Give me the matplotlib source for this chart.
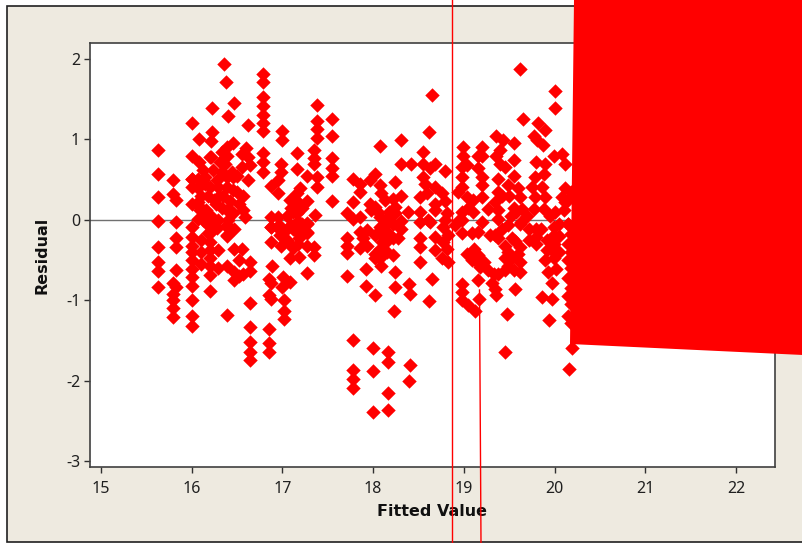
import matplotlib
matplotlib.use("Agg")
import matplotlib.pyplot as plt
from matplotlib.patches import Polygon, Rectangle
from matplotlib.lines import Line2D

W, H = 803, 543
plt.rcParams['axes.unicode_minus'] = False
plt.rcParams['font.family'] = ['Noto Sans', 'DejaVu Sans']

x_ticks = [15, 16, 17, 18, 19, 20, 21, 22]
y_ticks = [-3, -2, -1, 0, 1, 2]

fit_a = [15.63]*8 + [15.8,15.8,15.83,15.83,15.83,15.83,15.83,15.8,15.83,15.8,15.8,15.8,15.8]
res_a = [.87,.57,.28,-.02,-.34,-.52,-.64,-.83, .5,.32,.25,-.03,-.23,-.34,-.63,-.79,-.84,-.92,-1.0,-1.1,-1.21]

fit_b = [16.36,16.38,16.47,16.22,16.40,16.0,16.62,16.22,16.08,16.21,16.0,16.08,16.21,
         16.0,16.07,16.13,16.07,16.15,16.20,16.15,16.20,16.18,16.0,16.07,16.09,16.16,16.20,16.07,16.18,16.18,16.29,16.29,16.31,
         16.39,16.39,16.37,16.46,16.39,16.46,16.39,16.46,16.35,16.42,16.39,16.46,16.57,16.59,16.62,16.57,16.55,16.64,16.60,16.62,16.55,16.39,16.39,16.0,16.0]
res_b = [1.94,1.72,1.45,1.39,1.29,1.2,1.18,1.09,1.0,.98,.79,.72,.78,
         .51,.51,.49,.39,.45,.78,.53,.41,.30,.20,.22,.12,.12,.06,.01,-.07,-.17,0,.41,.72,
         .91,.80,.70,.95,.53,.53,.41,.37,.30,.24,.12,.08,.12,.03,.49,.30,.66,.68,.89,.78,.82,-.07,-.19,.41,.51]

fit_c = [16.0]*11 + [16.2]*8 + [16.29,16.29,16.39,16.39,16.39,16.39,16.47,16.56,16.64,16.64,16.57,16.47,16.47,16.64,16.64,16.64,16.64,16.64]
res_c = [-.09,-.21,-.32,-.40,-.50,-.61,-.71,-.82,-1.0,-1.2,-1.32,
         -.07,-.17,-.28,-.38,-.48,-.57,-.69,-.88,
         -.38,-.6,-.09,-.2,-.57,-1.19,-.36,-.36,-.52,-.64,-.67,-.65,-.75,-1.03,-1.33,-1.52,-1.65,-1.75]

fit_d = [16.79]*10 + [17.0,17.0,16.99,16.99,16.95,16.88,16.95,17.16,17.16,17.27,
         17.38,17.38,17.38,17.38,17.35,17.35,17.35,17.38,17.38,17.55,17.55,17.55,17.55,17.55,17.55,
         17.16,17.16,17.16,17.16,17.16,17.16,17.27,17.10,17.10,17.36,17.27,17.27,16.88,16.95,16.88,16.97]
res_d = [1.81,1.71,1.53,1.41,1.31,1.21,1.10,.83,.72,.59, 1.1,.99,.7,.59,.49,.42,.33,.83,.63,.54,
         1.43,1.23,1.13,1.02,.87,.77,.7,.53,.41,1.25,1.04,.77,.65,.55,.24,
         .33,.24,.16,.08,-.03,-.15,.24,.25,.15,.06,-.04,-.17,.03,.03,-.09,-.13]

fit_e = [16.85,16.85,16.85,16.89,16.85,16.88,16.85,16.88,16.88,16.88,16.96,16.97,16.99,17.08,17.17,17.08,17.18,17.27,17.35,17.35,17.27,
         17.01,17.08,17.0,17.02,17.02,17.02,17.18,17.18,17.18,17.27,17.27,17.01,17.1]
res_e = [-1.36,-1.53,-1.65,-.57,-.73,-.79,-.94,-.98,-.28,-.09,-.07,-.19,-.32,-.30,-.30,-.48,-.46,-.32,-.34,-.44,-.66,
         -.71,-.77,-.83,-1.0,-1.13,-1.23,-.03,-.13,-.23,-.05,-.15,-.21,-.07]

fit_f = [18.65,18.08,18.31,18.62,18.55,18.31,18.42,18.55,18.68,18.63,18.79,17.78,17.86,17.86,
         18.02,17.97,18.08,18.09,17.97,18.02,18.24,18.31,18.22,17.78,17.71,17.78,17.86,17.98,
         18.24,18.24,18.17,18.08,18.31,18.39,18.55,18.57,18.52,18.59,18.68,18.76,18.79,18.68,18.52,18.61,18.68,18.81,18.79]
res_f = [1.55,.92,.99,1.09,.84,.70,.70,.70,.70,.64,.61,.51,.45,.35,
         .57,.49,.43,.33,.2,.16,.47,.3,.26,.22,.08,.01,.03,.12,
         .16,.08,.04,.04,-.01,.1,.53,.45,.28,.33,.41,.33,.24,.2,.1,0,.12,.08,0]

fit_g = [18.99,18.99,18.98,19.03,18.98,18.98,18.94,19.03,18.98,18.94,19.2,19.2,19.16,19.2,19.2,19.2,19.16,
         19.35,19.43,19.4,19.36,19.4,19.45,19.38,19.55,19.55,19.55,19.49,19.6,19.38,19.34,19.27,19.38,19.38,19.62,19.64,19.63,19.62,
         19.65,19.82,19.89,19.77,19.81,19.87,20.0,20.0,19.99,20.08,20.12,19.8,19.9,19.88,19.79,19.75,19.86,19.79,19.9,19.77,19.88,
         20.12,20.08,20.12,20.0,20.1,20.15]
res_g = [.91,.8,.66,.68,.53,.41,.35,.28,.1,-.01,.91,.8,.64,.53,.43,.28,.8,
         1.04,.99,.87,.8,.7,.66,.51,.96,.75,.55,.43,.39,.35,.22,.14,.12,.01,.28,.14,-.03,1.88,
         1.25,1.2,1.12,1.04,.99,.93,1.6,1.39,.8,.82,.7,.72,.7,.57,.53,.41,.41,.28,.28,.14,.14,
         .39,.28,.22,.1,.12,-.05]

fit_h = [17.71,17.71,17.71,17.86,17.93,17.89,17.93,17.86,18.08,18.02,18.09,18.22,18.13,18.02,18.08,18.15,18.22,18.02,18.09,18.08,18.17,18.31,18.22,
         17.92,18.24,17.71,17.92,18.02,18.24,18.4,18.41,18.65,18.62,18.23,18.52,18.52,18.52,18.52,18.63,18.77,18.68,18.77,18.81,18.68,18.76,18.83,18.83]
res_h = [-.23,-.32,-.41,-.15,-.13,-.23,-.32,-.35,-.09,-.19,-.19,-.23,-.13,-.42,-.36,-.4,-.44,-.48,-.57,-.48,-.03,-.11,-.05,
         -.61,-.65,-.7,-.82,-.93,-.84,-.8,-.92,-.73,-1.01,-1.14,-.23,-.34,-.53,-.03,-.03,-.09,-.21,-.28,-.36,-.38,-.48,-.53,-.19]

fit_i = [18.9,18.98,19.09,19.2,19.16,19.29,18.98,19.42,19.49,19.38,19.45,19.53,19.62,19.34,
         19.03,19.11,19.16,19.22,19.09,19.18,19.27,19.33,19.38,19.14,19.16,19.31,19.36,19.34,19.56,
         18.98,18.98,18.98,19.05,19.12,19.17,19.48,19.45,
         19.49,19.45,19.53,19.6,19.62,19.55,19.62,19.62,19.56,19.49]
res_i = [-.07,-.17,-.17,-.03,-.15,-.19,0,-.11,-.07,-.23,-.32,-.23,-.05,-.19,
         -.42,-.36,-.44,-.53,-.5,-.59,-.63,-.67,-.67,-.53,-.75,-.79,-.94,-.86,-.86,
         -.8,-.9,-1.0,-1.06,-1.13,-.98,-1.17,-1.65,
         -.4,-.48,-.48,-.42,-.53,-.63,-.65,-.34,-.26,-.57]

fit_j = [19.8,19.8,19.8,19.99,19.99,19.99,19.99,19.9,19.93,20.02,19.97,19.86,19.97,19.94,19.99,20.19,20.16,
         20.15,20.18,20.15,20.18,20.15,20.18,20.15,20.18,20.15,20.18,20.15,20.18,20.18,20.15]
res_j = [-.11,-.21,-.3,-.09,-.19,-.3,-.4,-.5,-.65,-.61,-.79,-.96,-.98,-1.24,-.48,-1.6,-1.85,
         -.05,-.18,-.3,-.4,-.5,-.6,-.72,-.85,-.95,-1.05,-1.2,-1.28,.35,.25]

fit_k = [17.78,18.0,18.17,18.17,18.41,18.4,18.0,17.78,17.78,17.78,18.17,18.0,18.17]
res_k = [-1.49,-1.59,-1.65,-1.77,-1.81,-2.01,-1.88,-1.87,-1.98,-2.09,-2.16,-2.39,-2.36]

fit_l = [16.12,16.24,16.28,16.34,16.30,16.34,16.27,16.44,16.5,16.52,16.5,16.44,16.33,16.25,16.1,16.1,16.13,
         16.1,16.1,16.1,16.28,16.47,16.52,16.52,16.4,
         17.05,17.08,17.12,17.2,17.22,17.05,17.12,17.05,17.22,17.12,
         18.1,18.14,18.18,18.05,18.13,18.28,18.18,18.1,
         19.05,19.1,19.1,19.42,19.5,19.55,19.52,19.58,19.45,19.7,19.72,19.72,
         19.85,19.92,19.92,19.95,20.05,20.05,20.05]
res_l = [.62,.62,.5,.6,.3,.15,.2,.6,.55,.2,.35,.1,.85,.25,.3,.15,.0,
         -.25,-.4,-.55,-.1,-.12,-.5,-.7,.0,
         .05,.25,.1,.4,.15,-.12,-.12,-.25,-.05,-.35,
         -.28,-.28,.1,.1,.25,-.22,-.18,-.1,
         .15,.25,.1,.3,.3,.15,.05,.1,-.62,.05,-.12,-.25,
         -.12,-.25,-.38,.05,-.05,-.2,-.4]

fitted = fit_a + fit_b + fit_c + fit_d + fit_e + fit_f + fit_g + fit_h + fit_i + fit_j + fit_k + fit_l
residual = res_a + res_b + res_c + res_d + res_e + res_f + res_g + res_h + res_i + res_j + res_k + res_l

def fx(p): return p / W
def fy(p): return 1 - p / H

fig = plt.figure(figsize=(W / 100, H / 100), dpi=100, facecolor='white')
fig.add_artist(Rectangle((fx(7), fy(542)), 1, fy(6) - fy(542), transform=fig.transFigure,
                         facecolor='#EEEAE0', edgecolor='#202020', linewidth=1.2, zorder=-5))
ax = fig.add_axes([fx(90), fy(467), fx(775) - fx(90), fy(43) - fy(467)], facecolor='white')
ax.set_xlim(14.88, 22.43)
ax.set_ylim(-3.075, 2.2)
ax.axhline(0, color='#707070', linewidth=1.0, zorder=1)
ax.scatter(fitted, residual, marker='D', s=54, color='#FF0000', linewidths=0, zorder=2)
ax.set_xticks(x_ticks)
ax.set_yticks(y_ticks)
ax.tick_params(length=4, width=1.0, color='#303030', labelsize=11.5, labelcolor='#202020', pad=3)
ax.tick_params(axis='x', pad=6)
for s in ax.spines.values():
    s.set_color('#404040')
    s.set_linewidth(1.2)
ax.set_xlabel('Fitted Value', fontsize=11.5, fontweight='bold', family='DejaVu Sans', labelpad=5, color='#101010')
ax.set_ylabel('Residual', fontsize=11.5, fontweight='bold', family='DejaVu Sans', labelpad=12, color='#101010')

fig.add_artist(Polygon([(fx(574), fy(0)), (fx(803), fy(0)), (fx(803), fy(355)), (fx(570), fy(344))],
                       closed=True, transform=fig.transFigure, facecolor='#FF0000', edgecolor='none', zorder=5))
fig.add_artist(Line2D([fx(452), fx(452)], [fy(0), fy(543)], transform=fig.transFigure, color='#FF0000', linewidth=1.0, zorder=5))
fig.add_artist(Line2D([fx(479.5), fx(481)], [fy(290), fy(543)], transform=fig.transFigure, color='#FF0000', linewidth=1.0, zorder=5))

fig.savefig('out.png', dpi=100)
